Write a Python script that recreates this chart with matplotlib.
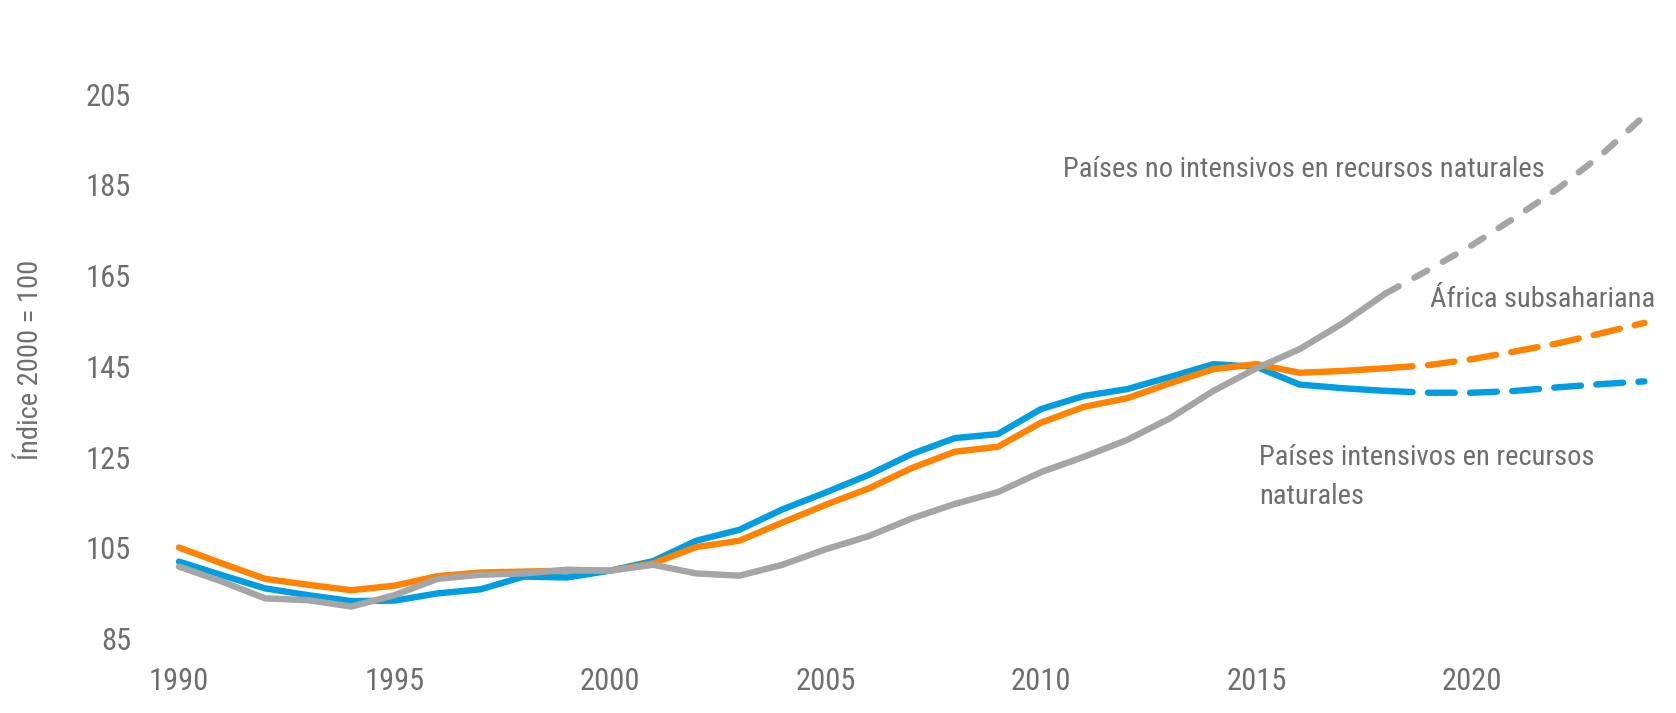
import matplotlib.pyplot as plt

# datos (índice 2000 = 100), proyección desde 2018
anios = list(range(1990, 2025))

intensivos = [102.0, 99.0, 96.1, 94.6, 93.3, 93.4, 95.0, 95.9, 98.7, 98.5,
              100.0, 102.1, 106.6, 109.0, 113.5, 117.2, 121.1, 125.7, 129.2, 130.1,
              135.6, 138.5, 140.0, 142.7, 145.5, 144.9, 141.0, 140.2, 139.6, 139.2,
              139.2, 139.6, 140.4, 141.1, 141.7]

africa = [105.1, 101.6, 98.2, 96.9, 95.7, 96.7, 98.8, 99.6, 99.8, 100.0,
          100.0, 101.6, 105.2, 106.6, 110.6, 114.5, 118.1, 122.6, 126.2, 127.3,
          132.6, 136.1, 138.0, 141.3, 144.4, 145.5, 143.6, 144.0, 144.6, 145.3,
          146.6, 148.3, 150.1, 152.3, 154.6]

no_intensivos = [100.9, 97.6, 93.9, 93.5, 92.1, 94.6, 98.2, 99.1, 99.4, 100.2,
                 100.0, 101.3, 99.4, 98.9, 101.3, 104.7, 107.6, 111.5, 114.7, 117.3,
                 121.7, 125.1, 128.8, 133.6, 139.6, 144.6, 148.8, 154.5, 161.1, 166.3,
                 171.7, 177.8, 184.2, 191.6, 200.2]

inicio_proy = 2018
yticks = [85, 105, 125, 145, 165, 185, 205]
xticks = [1990, 1995, 2000, 2005, 2010, 2015, 2020]

azul = '#009EE0'
naranja = '#FF8300'
gris = '#A5A5A5'
texto = '#6E6E6E'

plt.rcParams['font.family'] = ['Roboto Condensed', 'DejaVu Sans']

fig = plt.figure(figsize=(16.76, 7.13), dpi=100)
ax = fig.add_axes([0.0939, 0.1041, 0.9001, 0.7831])

k = anios.index(inicio_proy)
lw = 4.6
for serie, color, dash in [(intensivos, azul, (4.2, 2.4)),
                           (africa, naranja, (4.2, 2.4)),
                           (no_intensivos, gris, (2.3, 2.8))]:
    ax.plot(anios[:k + 1], serie[:k + 1], color=color, lw=lw,
            solid_capstyle='round', solid_joinstyle='round')
    ax.plot(anios[k:], serie[k:], color=color, lw=lw, dashes=dash,
            dash_capstyle='round')

ax.set_xlim(1989.5, 2024.5)
ax.set_ylim(85, 208)
ax.set_xticks(xticks)
ax.set_yticks(yticks)
ax.tick_params(length=0, labelsize=22, labelcolor=texto)
ax.tick_params(axis='y', pad=19)
ax.tick_params(axis='x', pad=20)
for s in ax.spines.values():
    s.set_visible(False)

fig.text(0.018, 0.495, 'Índice 2000 = 100', rotation=90, fontsize=20.5,
         color=texto, ha='center', va='center')

ax.text(2010.5, 186.65, 'Países no intensivos en recursos naturales',
        fontsize=20.5, color=texto, va='baseline')
ax.text(2019.03, 158.15, 'África subsahariana', fontsize=20.5, color=texto,
        va='baseline')
ax.text(2015.07, 123.3, 'Países intensivos en recursos', fontsize=20.5,
        color=texto, va='baseline')
ax.text(2015.07, 114.6, 'naturales', fontsize=20.5, color=texto, va='baseline')

fig.savefig('out.png', dpi=100, facecolor='white')
